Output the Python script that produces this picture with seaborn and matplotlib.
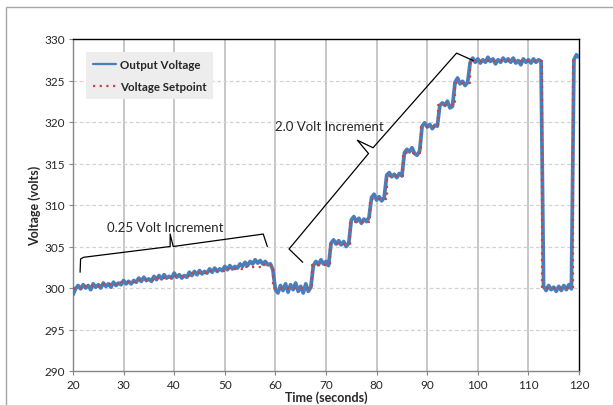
import numpy as np
import pandas as pd
import matplotlib
matplotlib.use('Agg')
import matplotlib.pyplot as plt
from matplotlib.patches import Rectangle
import seaborn as sns

# ─── data ────────────────────────────────────────────────────────────────────
# output voltage, sampled every 0.5 s from 20 s to 120 s (read off the picture)
out_volts = [
    299.2, 299.9, 300.3, 299.9, 300.4, 300.0, 300.3, 299.8, 300.5, 300.1,   # 20.0-24.5
    300.4, 300.0, 300.6, 300.2, 300.5, 300.1, 300.7, 300.3, 300.6, 300.4,   # 25.0-29.5
    300.9, 300.5, 300.8, 300.5, 300.9, 300.7, 301.2, 300.8, 301.3, 300.9,   # 30.0-34.5
    301.1, 300.8, 301.4, 301.0, 301.5, 301.1, 301.6, 301.2, 301.4, 301.2,   # 35.0-39.5
    301.8, 301.3, 301.6, 301.2, 301.5, 301.3, 301.9, 301.5, 302.0, 301.6,   # 40.0-44.5
    302.1, 301.7, 302.0, 301.8, 302.3, 301.9, 302.4, 302.0, 302.3, 302.1,   # 45.0-49.5
    302.6, 302.2, 302.7, 302.3, 302.6, 302.4, 302.9, 302.6, 303.1, 302.7,   # 50.0-54.5
    303.2, 302.9, 303.4, 303.0, 303.3, 302.9, 303.2, 302.8, 302.9, 302.2,   # 55.0-59.5
    299.8, 299.4, 300.3, 299.7, 300.5, 299.5, 300.4, 299.8, 300.6, 299.6,   # 60.0-64.5
    300.2, 299.4, 300.5, 299.6, 300.1, 302.7, 303.2, 302.8, 303.4, 302.9,   # 65.0-69.5
    303.2, 302.7, 305.4, 305.8, 305.3, 305.7, 305.2, 305.6, 305.0, 305.4,   # 70.0-74.5
    308.2, 308.6, 308.0, 308.4, 307.8, 308.3, 308.0, 308.5, 310.9, 311.3,   # 75.0-79.5
    310.6, 311.0, 310.5, 310.9, 313.6, 313.9, 313.4, 313.7, 313.3, 313.8,   # 80.0-84.5
    313.5, 316.3, 316.7, 316.4, 316.9, 316.2, 316.0, 316.5, 319.5, 319.9,   # 85.0-89.5
    319.4, 319.7, 319.2, 319.6, 319.5, 322.0, 322.3, 322.0, 322.5, 321.7,   # 90.0-94.5
    321.9, 324.8, 325.3, 324.6, 324.9, 324.4, 324.8, 327.2, 327.7, 327.2,   # 95.0-99.5
    327.6, 327.1, 327.5, 327.2, 327.8, 327.3, 327.6, 327.0, 327.5, 327.2,   # 100.0-104.5
    327.7, 327.3, 327.6, 327.2, 327.7, 327.1, 327.4, 326.9, 327.6, 327.2,   # 105.0-109.5
    327.5, 327.1, 327.6, 327.2, 327.5, 327.3, 300.2, 299.7, 300.3, 299.8,   # 110.0-114.5
    300.1, 299.6, 300.2, 299.7, 300.3, 299.8, 300.4, 299.9, 327.5, 328.1,   # 115.0-119.5
    327.8,                                                                   # 120.0
]
out_time = np.arange(20, 120.01, 0.5)
assert len(out_time) == len(out_volts)

# setpoint change points (value holds until next time)
sp_time = [20, 22, 25.5, 29, 32.5, 36, 39.5, 43, 46.5, 50, 53.5, 57, 59.6,
           67.3, 70.8, 74.8, 78.6, 82.0, 85.3, 88.7, 92.2, 95.5, 98.5,
           112.7, 118.8, 120]
sp_volts = [300, 300.25, 300.5, 300.75, 301, 301.25, 301.5, 301.75, 302,
            302.25, 302.5, 302.75, 300,
            302.75, 305.25, 308, 310.75, 313.5, 316.25, 319.4, 322.0, 324.75,
            327.4, 300, 327.4, 327.4]

df_out = pd.DataFrame({'t': out_time, 'v': out_volts})
df_sp = pd.DataFrame({'t': sp_time, 'v': sp_volts})

# brace annotations (data coords)
brace1_t = [21.4, 21.5, 22.1, 39.2, 39.2, 39.8, 57.6, 58.4]
brace1_v = [301.9, 303.5, 303.7, 305.0, 306.5, 305.0, 306.5, 305.0]
brace2_t = [65.4, 62.7, 78.4, 76.2, 79.3, 95.8, 99.1]
brace2_v = [303.1, 304.7, 316.2, 317.8, 316.9, 328.3, 327.4]

# ─── plot ────────────────────────────────────────────────────────────────────
sns.set_style('white')
plt.rcParams['font.family'] = ['Lato', 'DejaVu Sans']

fig = plt.figure(figsize=(6.13, 4.06), dpi=100)
ax = fig.add_axes([73/613, 1 - 372/406, 506/613, 332/406])

# grid
for x in range(30, 120, 10):
    ax.axvline(x, color='#BDBDBD', lw=1.2, zorder=0)
for y in range(295, 330, 5):
    ax.axhline(y, color='#D3D3D3', lw=0.9, ls=(0, (3, 2)), zorder=0)

sns.lineplot(data=df_out, x='t', y='v', ax=ax, color='#4A7EBB', lw=2.7,
             label='Output Voltage', zorder=3)
sns.lineplot(data=df_sp, x='t', y='v', ax=ax, color='#D0403C', lw=1.6,
             ls=(0, (1, 2)), drawstyle='steps-post', label='Voltage Setpoint',
             zorder=4)

ax.plot(brace1_t, brace1_v, color='black', lw=0.9, zorder=5)
ax.plot(brace2_t, brace2_v, color='black', lw=0.9, zorder=5, clip_on=False)
ax.text(38.2, 307.35, '0.25 Volt Increment', ha='center', va='center', fontsize=9.5)
ax.text(70.6, 319.5, '2.0 Volt Increment', ha='center', va='center', fontsize=9.5)

ax.set_xlim(20, 120)
ax.set_ylim(290, 330)
ax.set_xticks(range(20, 121, 10))
ax.set_yticks(range(290, 331, 5))
ax.tick_params(axis='both', labelsize=8.5, length=3, width=0.8, color='#868686',
               direction='out', pad=3, bottom=True, left=True)
ax.set_xlabel('Time (seconds)', fontsize=9, fontweight='bold', labelpad=0)
ax.set_ylabel('Voltage (volts)', fontsize=9, fontweight='bold', labelpad=2)

for side in ['left', 'bottom']:
    ax.spines[side].set_color('#868686')
    ax.spines[side].set_linewidth(1.0)
for side in ['top', 'right']:
    ax.spines[side].set_color('black')
    ax.spines[side].set_linewidth(1.0)

leg = ax.legend(loc='upper left', bbox_to_anchor=(0.026, 0.961), borderaxespad=0,
                prop={'weight': 'bold', 'size': 8.3}, frameon=True, fancybox=False,
                handlelength=2.0, handletextpad=0.3, labelspacing=1.0,
                borderpad=0.6)
leg.get_frame().set_facecolor('#EDEDED')
leg.get_frame().set_edgecolor('none')
leg.get_frame().set_alpha(1)
for h in leg.get_lines():
    h.set_linewidth(1.6)

# chart-area border
fig.add_artist(Rectangle((6/613, -0.05), 1.0, 1 - 8/406 + 0.05,
                         transform=fig.transFigure, fill=False,
                         edgecolor='#A6A6A6', lw=1.0))

fig.savefig('out.png', dpi=100)
